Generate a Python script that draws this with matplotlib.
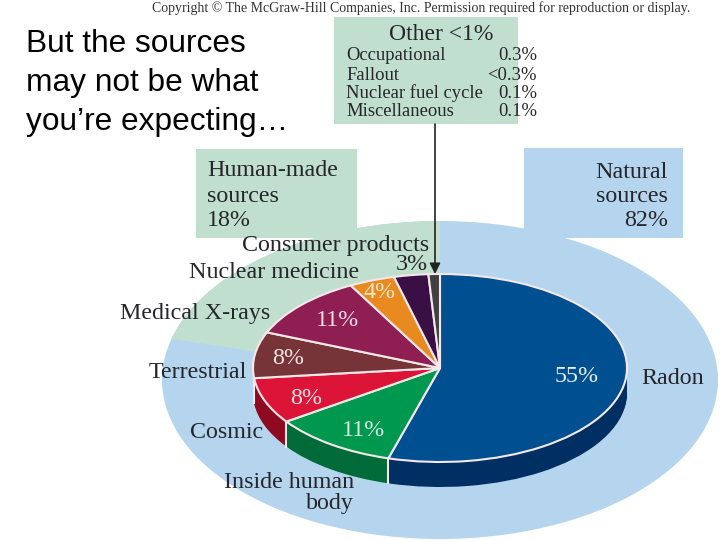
import matplotlib
matplotlib.use('Agg')
import matplotlib.pyplot as plt
import numpy as np
from matplotlib.patches import Ellipse, Wedge, Rectangle

plt.rcParams['font.family'] = ['Liberation Serif', 'DejaVu Serif']

# slices clockwise from 12 o'clock
slices = ['Radon', 'Inside human body', 'Cosmic', 'Terrestrial', 'Medical X-rays',
          'Nuclear medicine', 'Consumer products', 'Other']
values = [55, 11, 8, 8, 11, 4, 3, 1]
top_colors = ['#004f90', '#00984f', '#dc1438', '#763338', '#8f1f52', '#e98a21', '#3a0f45', '#404040']
side_colors = ['#002f63', '#006a38', '#8f0a20', '#5a2024', '#6a1038', '#a86010', '#2a0a30', '#303030']

other_names = ['Occupational', 'Fallout', 'Nuclear fuel cycle', 'Miscellaneous']
other_values = ['0.3%', '<0.3%', '0.1%', '0.1%']

green = '#c0dfce'
blue = '#b5d5ee'
ink = '#26262b'

W, H = 720, 540
cx, cy, rx, ry = 440, 368, 187, 94
depth = 25

fig = plt.figure(figsize=(7.2, 5.4), dpi=100)

# pixel coordinates for the backdrop and the text
ax = fig.add_axes([0, 0, 1, 1])
ax.set_xlim(0, W)
ax.set_ylim(H, 0)
ax.axis('off')

ax.add_patch(Ellipse((440, 380), 556, 318, fc=blue, ec='none'))
ax.add_patch(Rectangle((524, 148), 159, 90, fc=blue, ec='none'))
ax.add_patch(Rectangle((196, 149), 161, 89, fc=green, ec='none'))
ax.add_patch(Rectangle((334, 17), 184, 107, fc=green, ec='none'))

# green part of the ellipse, drawn in a unit axes so it stays elliptical
ring = fig.add_axes([162 / W, 1 - 539 / H, 556 / W, 318 / H])
ring.set_xlim(-1, 1)
ring.set_ylim(-1, 1)
ring.axis('off')
ring.add_patch(Wedge((0, 0), 1, 90, 165, fc=green, ec='none'))

# pie axes: data unit = pie radius, ellipse comes from the axis scales
pie_ax = fig.add_axes([0, 0, 1, 1])
for k in range(depth, 0, -1):
    pie_ax.pie(values, radius=1, center=(0, -k / ry), colors=side_colors,
               startangle=90, counterclock=False, frame=False)
pie_ax.pie(values, radius=1, colors=top_colors, startangle=90, counterclock=False,
           frame=False, wedgeprops={'edgecolor': '#f4e8ea', 'linewidth': 1.5})
pie_ax.set_aspect('auto')
pie_ax.set_xlim((0 - cx) / rx, (W - cx) / rx)
pie_ax.set_ylim((cy - H) / ry, cy / ry)

# white seams on the rim where slices meet
angles = 90 - np.cumsum(values) / sum(values) * 360
for a in angles:
    x, y = np.cos(np.radians(a)), np.sin(np.radians(a))
    if y < 0:
        pie_ax.plot([x, x], [y, y - depth / ry], color='#f4e8ea', lw=1.5)

# text layer on top
txt = fig.add_axes([0, 0, 1, 1])
txt.set_xlim(0, W)
txt.set_ylim(H, 0)
txt.axis('off')


def label(x, y, s, size=17.3, ha='left', color=ink, **kw):
    txt.text(x, y + 2, s, fontsize=size, ha=ha, va='center', color=color, **kw)


label(152, 6, 'Copyright © The McGraw-Hill Companies, Inc. Permission required for reproduction or display.',
      size=10, color='#333333')

for y, s in zip([44, 83, 122], ['But the sources', 'may not be what', 'you’re expecting…']):
    txt.text(26, y, s, fontsize=22.8, family='Liberation Sans', color='black', va='center')

# Other box
label(441, 33, 'Other <1%', size=17, ha='center')
for y, n, v in zip([54, 73, 91, 110], other_names, other_values):
    label(346, y, n, size=13.4)
    label(537, y, v, size=13.4, ha='right')

txt.annotate('', xy=(435, 274), xytext=(435, 124),
             arrowprops={'arrowstyle': '-|>', 'color': '#222222', 'lw': 1.2, 'shrinkA': 0, 'shrinkB': 0,
                         'mutation_scale': 16})

for y, s in zip([169, 194, 219], ['Human-made', 'sources', '18%']):
    label(207, y, s)
for y, s in zip([170, 194, 218], ['Natural', 'sources', '82%']):
    label(668, y, s, ha='right')

# slice names
label(641, 376, slices[0])
label(354, 481, 'Inside human', ha='right')
label(354, 501, 'body', ha='right')
label(263, 431, slices[2], ha='right')
label(247, 370, slices[3], ha='right')
label(270, 312, slices[4], ha='right')
label(359, 271, slices[5], ha='right')
label(429, 243, slices[6], ha='right')

# percentages
pct_pos = [(577, 375), (363, 428), (306, 397), (288, 357), (337, 318), (380, 291), (412, 262)]
pct_col = ['#e8f0f8', '#d8f0e0', '#fbe0e4', '#f5e6e0', '#f8dde8', '#fbe6c8', ink]
for (x, y), v, c in zip(pct_pos, values, pct_col):
    label(x, y, f'{v}%', ha='center', color=c)

fig.savefig('out.png', dpi=100)
